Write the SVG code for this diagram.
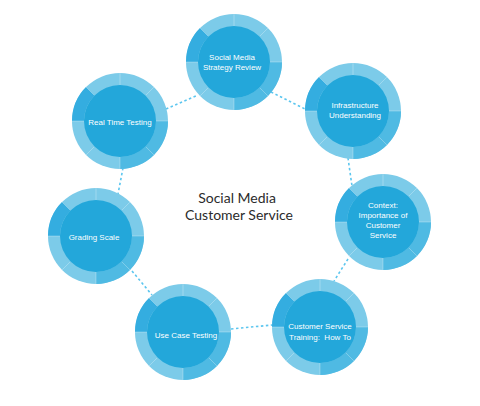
<svg xmlns="http://www.w3.org/2000/svg" xmlns:xlink="http://www.w3.org/1999/xlink" width="480" height="406" viewBox="0 0 480 406">
<style>
.lt{fill:#7ccbe9}
.md{fill:#4fbae3}
.dk{fill:#34ade0}
.in{fill:#23a7da}
.dv{stroke:#ffffff;stroke-opacity:0.35;stroke-width:0.8}
.lbl{font-family:"Liberation Sans",Arial,sans-serif;font-size:8px;fill:#ffffff;text-anchor:middle}
.title{font-family:"Lato","Liberation Sans",sans-serif;font-size:14px;fill:#2b2b2b;text-anchor:middle}
.con line{stroke:#5cc6ef;stroke-width:1.6;stroke-dasharray:2.5 2.5;fill:none}
</style>
<defs>
<g id="ring">
<circle r="48" class="lt"/>
<path class="dk" d="M-33.94,-33.94 A48,48 0 0 0 -48,0 L-36,0 A36,36 0 0 1 -25.46,-25.46 Z"/>
<path class="md" d="M0,48 A48,48 0 0 0 48,0 L36,0 A36,36 0 0 1 0,36 Z"/>
<g class="dv">
<line x1="36" y1="0" x2="48" y2="0"/>
<line x1="25.46" y1="-25.46" x2="33.94" y2="-33.94"/>
<line x1="0" y1="-36" x2="0" y2="-48"/>
<line x1="-25.46" y1="-25.46" x2="-33.94" y2="-33.94"/>
<line x1="-36" y1="0" x2="-48" y2="0"/>
<line x1="-25.46" y1="25.46" x2="-33.94" y2="33.94"/>
<line x1="0" y1="36" x2="0" y2="48"/>
<line x1="25.46" y1="25.46" x2="33.94" y2="33.94"/>
</g>
<circle r="36" class="in"/>
</g>
</defs>
<rect width="480" height="406" fill="#ffffff"/>
<g id="connectors" class="con">
<line x1="166" y1="109" x2="196" y2="96"/>
<line x1="271" y1="92" x2="305" y2="109"/>
<line x1="348" y1="158" x2="352" y2="186"/>
<line x1="348" y1="259" x2="334" y2="281"/>
<line x1="231" y1="329" x2="272" y2="325"/>
<line x1="132" y1="271" x2="152" y2="295"/>
<line x1="123" y1="168" x2="118" y2="194"/>
</g>
<g id="n1"><use xlink:href="#ring" transform="translate(234,62)"/>
<text class="lbl" x="232" y="60">Social Media</text><text class="lbl" x="232" y="70">Strategy Review</text></g>
<g id="n2"><use xlink:href="#ring" transform="translate(353,111)"/>
<text class="lbl" x="355" y="108">Infrastructure</text><text class="lbl" x="355" y="118">Understanding</text></g>
<g id="n3"><use xlink:href="#ring" transform="translate(383,222)"/>
<text class="lbl" x="383" y="208">Context:</text><text class="lbl" x="383" y="218">Importance of</text><text class="lbl" x="383" y="228">Customer</text><text class="lbl" x="383" y="238">Service</text></g>
<g id="n4"><use xlink:href="#ring" transform="translate(320,327)"/>
<text class="lbl" x="320" y="329">Customer Service</text><text class="lbl" x="320" y="340" xml:space="preserve">Training:  How To</text></g>
<g id="n5"><use xlink:href="#ring" transform="translate(183,332)"/>
<text class="lbl" x="186" y="338">Use Case Testing</text></g>
<g id="n6"><use xlink:href="#ring" transform="translate(96,236)"/>
<text class="lbl" x="94" y="240">Grading Scale</text></g>
<g id="n7"><use xlink:href="#ring" transform="translate(120,121)"/>
<text class="lbl" x="120" y="125">Real Time Testing</text></g>
<g id="center">
<text class="title" x="237" y="203">Social Media</text>
<text class="title" x="239" y="220">Customer Service</text>
</g>
</svg>
